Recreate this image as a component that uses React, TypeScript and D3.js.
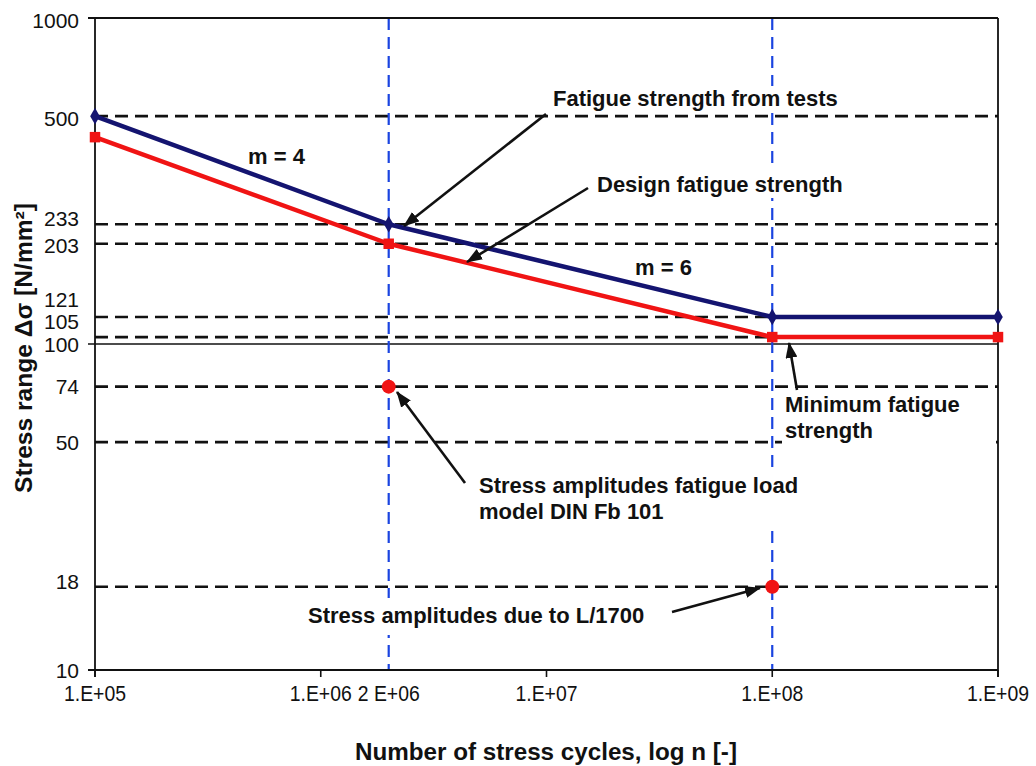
import React from "react";
import * as d3 from "d3";

// S-N curve data
const cycles = [1e5, 2e6, 1e8, 1e9];
const testStrength = [500, 233, 121, 121];
const designStrength = [431, 203, 105, 105];
const loadCycles = [2e6, 1e8];
const loadAmplitudes = [74, 18];
const refStress = [500, 233, 203, 121, 105, 74, 50, 18];
const markedCycles = [2e6, 1e8];
const yTickValues = [1000, 500, 233, 203, 121, 105, 100, 74, 50, 18, 10];
const xTickValues = [1e5, 1e6, 2e6, 1e7, 1e8, 1e9];
const xTickLabels = ["1.E+05", "1.E+06", "2 E+06", "1.E+07", "1.E+08", "1.E+09"];
const decadeTicks = [1e5, 1e6, 1e7, 1e8, 1e9];

// label nudges so crowded labels don't overlap
const yLabelNudge: Record<number, number> = { 1000: 2, 500: 2, 233: -6, 203: 2, 121: -18, 105: -16, 100: 0, 18: -5 };

const W = 1036;
const H = 766;
const left = 95;
const right = 998;
const top = 18;
const bottom = 670;

const FONT = "Liberation Sans, Arial, Helvetica, sans-serif";

const notes = [
  { lines: ["Fatigue strength from tests"], x: 553, y: 106, box: [548, 86, 300, 25], tail: [546, 114], tip: [404, 226] },
  { lines: ["Design fatigue strength"], x: 597, y: 192, box: [592, 169, 258, 29], tail: [588, 188], tip: [467, 262] },
  { lines: ["Minimum fatigue", "strength"], x: 785, y: 412, box: [782, 395, 214, 55], tail: [797, 390], tip: [789, 343] },
  { lines: ["Stress amplitudes fatigue load", "model DIN Fb 101"], x: 479, y: 493, box: [476, 468, 332, 60], tail: [465, 483], tip: [397, 392] },
  { lines: ["Stress amplitudes due to L/1700"], x: 308, y: 623, box: [302, 598, 352, 37], tail: [672, 612], tip: [760, 588] },
];

const App = () => {
  const x = d3.scaleLog().domain([1e5, 1e9]).range([left, right]);
  const y = d3.scaleLog().domain([10, 1000]).range([bottom, top]);

  const line = d3
    .line<number>()
    .x((_, i) => x(cycles[i]))
    .y((d) => y(d));

  const diamond = d3.symbol(d3.symbolDiamond, 80)();
  const square = d3.symbol(d3.symbolSquare, 110)();

  return (
    <svg width={W} height={H} style={{ display: "block", position: "absolute", left: 0, top: 0 }}>
      <defs>
        <marker id="arrow" markerUnits="userSpaceOnUse" markerWidth="16" markerHeight="12" refX="15" refY="6" orient="auto">
          <path d="M0,0 L16,6 L0,12 Z" fill="#111" />
        </marker>
      </defs>
      <rect width={W} height={H} fill="#fff" />

      {/* dashed reference levels */}
      {refStress.map((v) => (
        <line key={"h" + v} x1={left} x2={right} y1={y(v)} y2={y(v)} stroke="#111" strokeWidth={2.6} strokeDasharray="13,7" />
      ))}

      {/* solid gridline at 100 */}
      <line x1={left - 7} x2={right} y1={y(100)} y2={y(100)} stroke="#111" strokeWidth={1.6} />

      {/* marked cycle numbers */}
      {markedCycles.map((c) => (
        <line key={"v" + c} x1={x(c)} x2={x(c)} y1={top} y2={bottom} stroke="#1a44e0" strokeWidth={2.2} strokeDasharray="12,7" />
      ))}

      {/* white boxes behind the notes */}
      {notes.map((n, i) => (
        <rect key={"b" + i} x={n.box[0]} y={n.box[1]} width={n.box[2]} height={n.box[3]} fill="#fff" />
      ))}

      {/* frame and axes */}
      <line x1={left - 7} x2={right} y1={y(1000)} y2={y(1000)} stroke="#111" strokeWidth={1.8} />
      <line x1={left - 7} x2={right} y1={y(10)} y2={y(10)} stroke="#111" strokeWidth={1.8} />
      <line x1={left} x2={left} y1={top} y2={bottom + 7} stroke="#111" strokeWidth={1.8} />
      <line x1={right} x2={right} y1={top} y2={bottom + 7} stroke="#111" strokeWidth={1.8} />
      {decadeTicks.map((c) => (
        <line key={"t" + c} x1={x(c)} x2={x(c)} y1={bottom} y2={bottom + 7} stroke="#111" strokeWidth={1.6} />
      ))}

      {/* curves */}
      <path d={line(testStrength) || ""} fill="none" stroke="#141470" strokeWidth={4.5} strokeLinejoin="round" />
      <path d={line(designStrength) || ""} fill="none" stroke="#f01414" strokeWidth={4.5} strokeLinejoin="round" />
      {testStrength.map((v, i) => (
        <path key={"d" + i} d={diamond || ""} transform={`translate(${x(cycles[i])},${y(v)})`} fill="#141470" />
      ))}
      {designStrength.map((v, i) => (
        <path key={"s" + i} d={square || ""} transform={`translate(${x(cycles[i])},${y(v)})`} fill="#f01414" />
      ))}
      {loadAmplitudes.map((v, i) => (
        <circle key={"c" + i} cx={x(loadCycles[i])} cy={y(v)} r={7} fill="#f01414" />
      ))}

      {/* arrows */}
      {notes.map((n, i) => (
        <line key={"a" + i} x1={n.tail[0]} y1={n.tail[1]} x2={n.tip[0]} y2={n.tip[1]} stroke="#111" strokeWidth={2.6} markerEnd="url(#arrow)" />
      ))}

      {/* note texts */}
      <g fontFamily={FONT} fontWeight="bold" fontSize={22} fill="#111">
        {notes.map((n, i) =>
          n.lines.map((t, j) => (
            <text key={"n" + i + j} x={n.x} y={n.y + j * 26}>
              {t}
            </text>
          ))
        )}
        <text x={248} y={164}>m = 4</text>
        <text x={635} y={275}>m = 6</text>
      </g>

      {/* y tick labels */}
      <g fontFamily={FONT} fontSize={21} fill="#111" textAnchor="end">
        {yTickValues.map((v) => (
          <text key={"yl" + v} x={79} y={y(v) + (yLabelNudge[v] || 0)} dominantBaseline="central">
            {v}
          </text>
        ))}
      </g>

      {/* x tick labels */}
      <g fontFamily={FONT} fontSize={22} fill="#111" textAnchor="middle">
        {xTickValues.map((c, i) => (
          <text key={"xl" + c} x={x(c)} y={701} textLength={62} lengthAdjust="spacingAndGlyphs">
            {xTickLabels[i]}
          </text>
        ))}
      </g>

      {/* axis titles */}
      <text x={546} y={760} textAnchor="middle" fontFamily={FONT} fontWeight="bold" fontSize={23} fill="#111" textLength={382} lengthAdjust="spacingAndGlyphs">
        Number of stress cycles, log n [-]
      </text>
      <text
        transform={`translate(32,348) rotate(-90)`}
        textAnchor="middle"
        fontFamily={FONT}
        fontWeight="bold"
        fontSize={23}
        fill="#111"
        textLength={290}
        lengthAdjust="spacingAndGlyphs"
      >
        Stress range Δσ [N/mm²]
      </text>
    </svg>
  );
};

export default App;
